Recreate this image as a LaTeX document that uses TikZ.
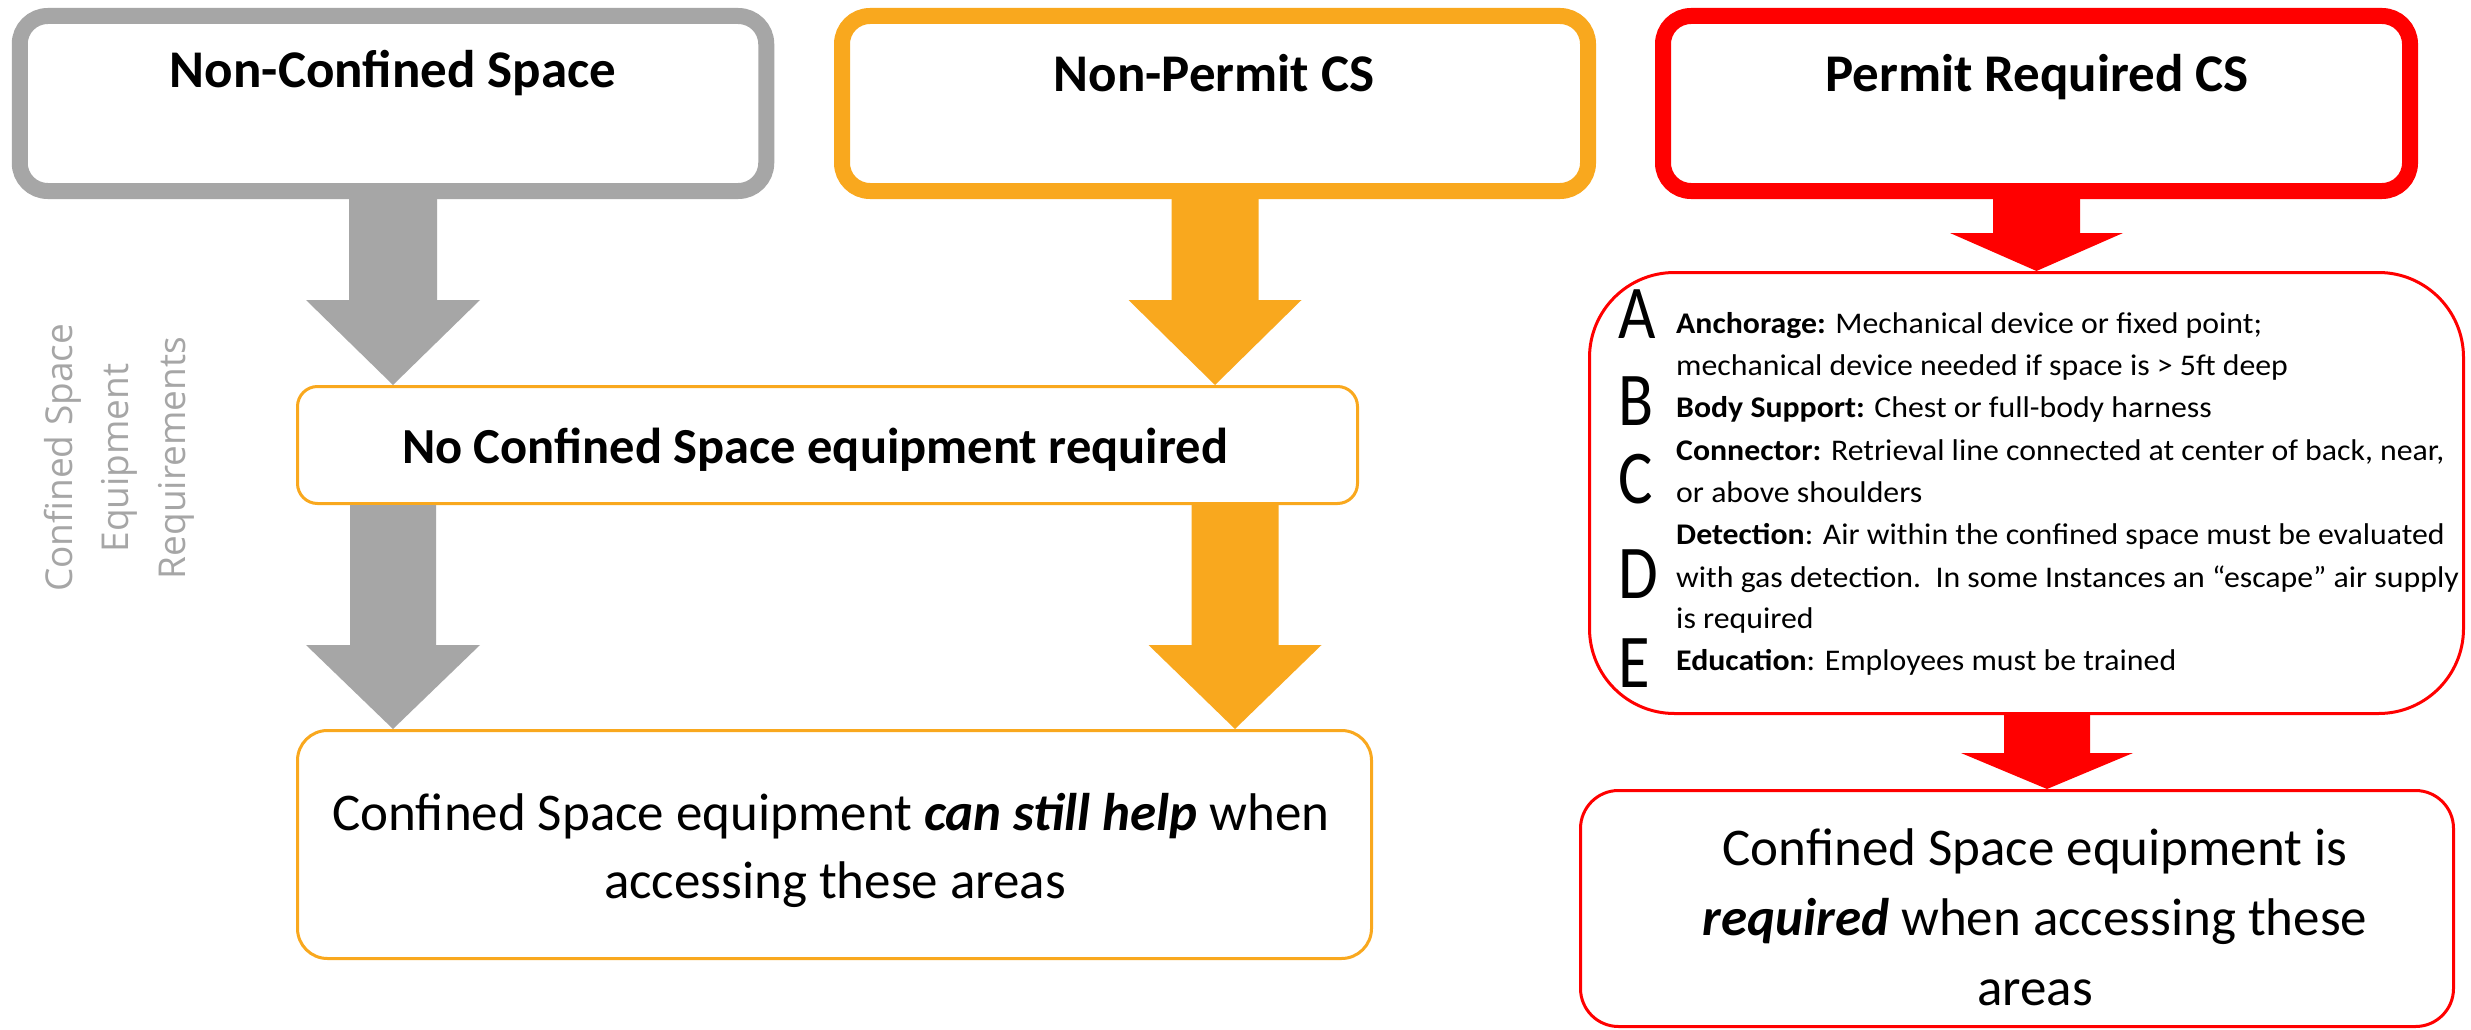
\documentclass[tikz,border=0pt]{standalone}
\usepackage{graphicx}
\usepackage{fontspec}
\setmainfont{Carlito}
\newfontfamily\listfont{Carlito}[FakeStretch=1.06]
\newfontfamily\sidefont{Open Sans}
\usetikzlibrary{calc}
\definecolor{cgray}{HTML}{A6A6A6}
\definecolor{corange}{HTML}{F9A81E}
\definecolor{cred}{HTML}{FF0000}
\definecolor{cside}{HTML}{A6A6A6}
% #1 colour, #2 start point, #3 target (gives tip y), #4 shaft half width, #5 head half width, #6 head length
\newcommand\blockarrow[6]{%
  \fill[#1] let \p1=(#2), \p2=(#3) in
    (\x1-#4,\y1) -- (\x1+#4,\y1) -- (\x1+#4,\y2+#6) -- (\x1+#5,\y2+#6) --
    (\x1,\y2) -- (\x1-#5,\y2+#6) -- (\x1-#4,\y2+#6) -- cycle;}
\begin{document}
\begin{tikzpicture}[x=1pt,y=-1pt,
  topbox/.style={draw=#1, line width=16pt, rounded corners=28pt, fill=white,
    minimum height=175pt, inner sep=0pt},
  thinbox/.style={draw=#1, line width=3pt, fill=white, inner sep=0pt},
  title/.style={font=\fontsize{53}{63}\selectfont\bfseries, anchor=base, inner sep=0pt},
  body/.style={font=\fontsize{53}{63}\selectfont, anchor=base, inner sep=0pt},
  item/.style={font=\listfont\fontsize{30}{36}\selectfont, anchor=base west, inner sep=0pt},
  letter/.style={font=\fontsize{76}{80}\selectfont, anchor=base west, inner sep=0pt},
  side/.style={font=\sidefont\fontsize{37}{41}\selectfont, text=cside, rotate=90,
    anchor=base, inner sep=0pt},
]
\useasboundingbox[fill=white] (0,0) rectangle (2471,1030);

% top boxes
\node[topbox=cgray, minimum width=746.5pt] (g1) at (393,103.5) {};
\node[topbox=corange, minimum width=746pt] (o1) at (1215,103.5) {};
\node[topbox=cred, minimum width=747pt] (r1) at (2036.5,103.5) {};
\node[title] (tg) at (393,88) {Non-Confined Space};
\node[title] (to) at (1214,92) {Non-Permit CS};
\node[title] (tr) at (2037,92) {Permit Required CS};

% middle and lower boxes
\node[thinbox=corange, rounded corners=20pt, minimum width=1060pt, minimum height=117pt] (nc) at (827.5,445) {};
\node[title, font=\fontsize{50.5}{60}\selectfont\bfseries] (tnc) at (815,463) {No Confined Space equipment required};

\node[thinbox=corange, rounded corners=30pt, minimum width=1074pt, minimum height=228pt] (ob) at (834.5,844.5) {};
\node[body] (ob1) at (831,830) {Confined Space equipment \textbf{\textit{can still help}} when};
\node[body] (ob2) at (835,898) {accessing these areas};

\node[thinbox=cred, rounded corners=85pt, minimum width=874pt, minimum height=441pt] (list) at (2026.5,493) {};
\node[thinbox=cred, rounded corners=38pt, minimum width=873pt, minimum height=236pt] (rb) at (2017,908.5) {};
\node[body] (rb1) at (2035,865) {Confined Space equipment is};
\node[body] (rb2) at (2035,935) {\textbf{\textit{required}} when accessing these};
\node[body] (rb3) at (2035,1005) {areas};

% list letters
\node[letter] (la) at (1618,338) {\scalebox{0.85}[1]{A}};
\node[letter] (lb) at (1618,425) {\scalebox{0.85}[1]{B}};
\node[letter] (lc) at (1618,503) {\scalebox{0.85}[1]{C}};
\node[letter] (ld) at (1618,598) {\scalebox{0.85}[1]{D}};
\node[letter] (le) at (1618,687) {\scalebox{0.85}[1]{E}};

% list text
\node[item] (i1) at (1676,333) {\textbf{Anchorage:} Mechanical device or fixed point;};
\node[item] (i2) at (1676,375) {mechanical device needed if space is > 5ft deep};
\node[item] (i3) at (1676,417) {\textbf{Body Support:} Chest or full-body harness};
\node[item] (i4) at (1676,460) {\textbf{Connector:} Retrieval line connected at center of back, near,};
\node[item] (i5) at (1676,502) {or above shoulders};
\node[item] (i6) at (1676,544) {\textbf{Detection}: Air within the confined space must be evaluated};
\node[item] (i7) at (1676,587) {with gas detection.\ \ In some Instances an “escape” air supply};
\node[item] (i8) at (1676,628) {is required};
\node[item] (i9) at (1676,670) {\textbf{Education}: Employees must be trained};

% side label
\node[side] (s1) at (72,458) {Confined Space};
\node[side] (s2) at (128,458) {Equipment};
\node[side] (s3) at (185,458) {Requirements};

% block arrows
\blockarrow{cgray}{g1.south}{nc.north}{44pt}{87pt}{85pt}
\blockarrow{corange}{o1.south}{nc.north}{43.5pt}{86.5pt}{85pt}
\blockarrow{cgray}{nc.south -| g1.south}{ob.north}{43pt}{87pt}{84pt}
\blockarrow{corange}{$(nc.south -| o1.south)+(20,0)$}{ob.north}{43.5pt}{86.5pt}{84pt}
\blockarrow{cred}{r1.south}{list.north}{43.5pt}{86.5pt}{38pt}
\blockarrow{cred}{$(list.south)+(20.5,0)$}{rb.north}{43pt}{86pt}{36pt}
\end{tikzpicture}
\end{document}
